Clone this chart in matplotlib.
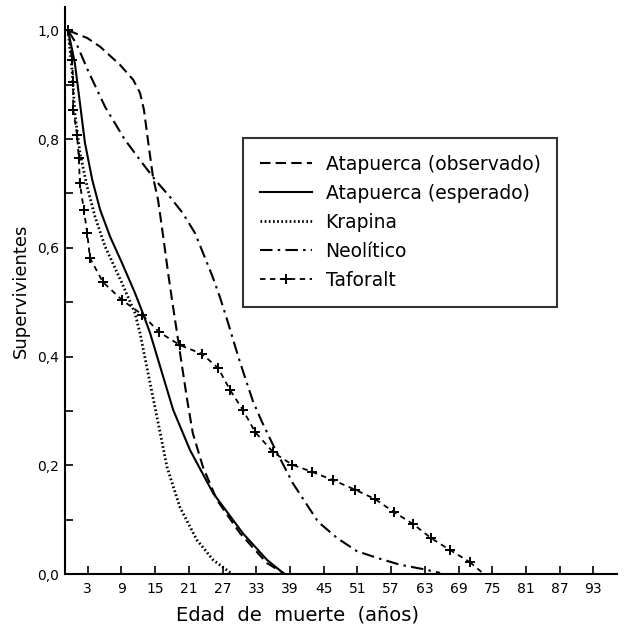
"""Curvas de supervivencia: Atapuerca frente a otras poblaciones."""

import matplotlib

matplotlib.use("Agg")
import matplotlib.pyplot as plt
from matplotlib.ticker import FuncFormatter, MultipleLocator

# Atapuerca (observado)
obs_x = [-0.5, 2.9, 5.2, 8.7, 11.1, 12.3, 13.0, 13.7, 14.6, 15.5, 16.2, 17.3,
         18.0, 18.9, 19.8, 20.7, 21.7, 23.5, 26.0, 30.1, 34.9, 38.1]
obs_y = [1.0, 0.986, 0.970, 0.937, 0.909, 0.885, 0.854, 0.799, 0.731, 0.689,
         0.638, 0.554, 0.504, 0.443, 0.381, 0.320, 0.259, 0.197, 0.136, 0.075,
         0.020, 0.0]

# Atapuerca (esperado)
esp_x = [-0.5, 0.7, 1.6, 2.5, 3.8, 5.2, 7.0, 9.1, 11.4, 12.8, 14.1, 15.9,
         18.2, 21.2, 25.3, 30.6, 34.9, 38.0]
esp_y = [1.0, 0.940, 0.867, 0.793, 0.725, 0.670, 0.620, 0.572, 0.517, 0.480,
         0.443, 0.381, 0.302, 0.228, 0.149, 0.075, 0.026, 0.0]

# Krapina
kra_x = [-0.5, 0.2, 0.7, 1.6, 2.9, 4.3, 6.1, 9.1, 11.4, 12.3, 14.1, 15.9,
         17.1, 19.4, 22.4, 25.3, 28.7]
kra_y = [1.0, 0.927, 0.848, 0.775, 0.712, 0.657, 0.602, 0.535, 0.480, 0.443,
         0.351, 0.259, 0.197, 0.123, 0.063, 0.026, 0.0]

# Neolitico
neo_x = [-0.5, 1.1, 3.0, 6.1, 9.6, 12.7, 15.0, 17.6, 19.9, 22.1, 23.5, 25.1,
         26.5, 27.8, 28.9, 30.0, 31.2, 32.4, 34.0, 36.0, 39.5, 44.0, 47.4,
         50.9, 54.7, 58.6, 62.7, 65.7]
neo_y = [1.0, 0.973, 0.927, 0.859, 0.799, 0.756, 0.725, 0.694, 0.664, 0.627,
         0.591, 0.550, 0.510, 0.468, 0.430, 0.393, 0.355, 0.318, 0.280, 0.237,
         0.167, 0.096, 0.066, 0.042, 0.029, 0.017, 0.009, 0.002]

# Taforalt
taf_x = [-0.5, 0.2, 0.4, 0.4, 1.1, 1.4, 1.6, 2.3, 2.9, 3.4, 5.7, 9.1, 12.7,
         15.7, 19.4, 23.3, 26.2, 28.3, 30.6, 32.8, 36.0, 39.4, 42.9, 46.6,
         50.6, 54.1, 57.5, 60.9, 64.1, 67.5, 71.0, 73.5]
taf_y = [1.0, 0.946, 0.905, 0.854, 0.808, 0.765, 0.719, 0.670, 0.627, 0.581,
         0.537, 0.504, 0.477, 0.445, 0.421, 0.405, 0.379, 0.339, 0.302, 0.261,
         0.224, 0.201, 0.188, 0.173, 0.155, 0.138, 0.114, 0.092, 0.066, 0.044,
         0.022, 0.0]

labels = ["Atapuerca (observado)", "Atapuerca (esperado)", "Krapina",
          "Neolítico", "Taforalt"]
x_ticks = list(range(3, 94, 6))

fig = plt.figure(figsize=(6.24, 6.27), dpi=100)
ax = fig.add_axes([65 / 624, 53 / 627, 552 / 624, 567 / 627])

ax.plot(obs_x, obs_y, color="black", lw=1.5, linestyle=(0, (5, 2.5)),
        label=labels[0])
ax.plot(esp_x, esp_y, color="black", lw=1.5, linestyle="-", label=labels[1])
ax.plot(kra_x, kra_y, color="black", lw=2.0, linestyle=(0, (0.6, 0.9)),
        label=labels[2])
ax.plot(neo_x, neo_y, color="black", lw=1.5, linestyle=(0, (6, 2.5, 1.2, 2.5)),
        label=labels[3])
ax.plot(taf_x[:-1], taf_y[:-1], color="black", lw=1.3, linestyle=(0, (3, 2.5)),
        marker="+", markersize=6.5, markeredgewidth=1.4, label=labels[4])
ax.plot(taf_x[-2:], taf_y[-2:], color="black", lw=1.3, linestyle=(0, (3, 2.5)))

ax.set_xlim(-1.05, 97.2)
ax.set_ylim(0, 1.043)
ax.set_xticks(x_ticks)
ax.yaxis.set_major_locator(MultipleLocator(0.2))
ax.yaxis.set_minor_locator(MultipleLocator(0.1))
ax.yaxis.set_major_formatter(
    FuncFormatter(lambda v, pos: f"{v:.1f}".replace(".", ","))
)

for side in ("top", "right"):
    ax.spines[side].set_visible(False)
for side in ("left", "bottom"):
    ax.spines[side].set_linewidth(1.5)

ax.tick_params(axis="both", which="both", direction="in", length=6, width=1.2,
               labelsize=10)
ax.tick_params(axis="x", pad=6)
ax.tick_params(axis="y", pad=4)

fig.text(297 / 624, 1 - 615 / 627, "Edad  de  muerte  (años)", fontsize=14,
         ha="center", va="center")
fig.text(21 / 624, 1 - 291 / 627, "Supervivientes", fontsize=13,
         ha="center", va="center", rotation=90)

leg = ax.legend(loc="upper left", bbox_to_anchor=(243 / 624, 1 - 138 / 627),
                bbox_transform=fig.transFigure, fontsize=13.5, frameon=True,
                fancybox=False, handlelength=2.8, handletextpad=0.7,
                borderpad=0.9, labelspacing=0.53, borderaxespad=0)
leg.get_frame().set_edgecolor("black")
leg.get_frame().set_linewidth(1.5)

fig.savefig("out.png", dpi=100, facecolor="white")
